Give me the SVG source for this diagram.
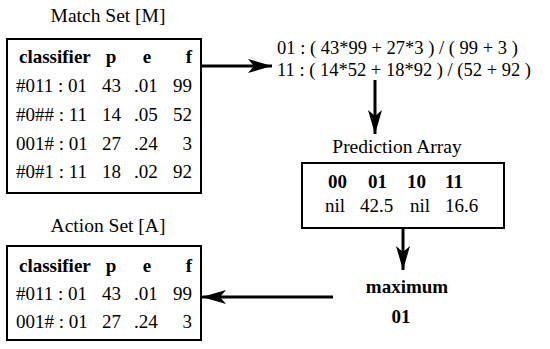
<svg xmlns="http://www.w3.org/2000/svg" width="550" height="349" viewBox="0 0 550 349">
  <style>
    text { font-family: 'Liberation Serif', 'DejaVu Serif', serif; font-size: 19px; fill: #000; }
    .t { font-size: 19.5px; }
    .f { font-size: 18.5px; }
    .b { font-weight: bold; }
    .m { text-anchor: middle; }
    .e { text-anchor: end; }
    .box { fill: #fff; stroke: #000; stroke-width: 2; }
    .wire { stroke: #000; stroke-width: 3; fill: none; }
  </style>
  <defs>
    <marker id="head" viewBox="0 0 24 14" refX="24" refY="7" markerWidth="24" markerHeight="14" markerUnits="userSpaceOnUse" orient="auto">
      <path d="M0,0 L24,7 L0,14 L6,7 Z" fill="#000"/>
    </marker>
  </defs>

  <rect width="550" height="349" fill="#fff"/>

  <!-- match set table -->
  <g id="match-set">
    <text class="t m" x="108" y="22">Match Set [M]</text>
    <rect class="box" x="7" y="39" width="194" height="154"/>
    <text class="b" x="19" y="63">classifier</text>
    <text class="b m" x="111" y="63">p</text>
    <text class="b m" x="147" y="63">e</text>
    <text class="b e" x="192" y="63">f</text>
    <text x="16" y="92">#011 : 01</text><text x="102" y="92">43</text><text x="134" y="92">.01</text><text class="e" x="192" y="92">99</text>
    <text x="16" y="121">#0## : 11</text><text x="102" y="121">14</text><text x="134" y="121">.05</text><text class="e" x="192" y="121">52</text>
    <text x="16" y="150">001# : 01</text><text x="102" y="150">27</text><text x="134" y="150">.24</text><text class="e" x="192" y="150">3</text>
    <text x="16" y="178">#0#1 : 11</text><text x="102" y="178">18</text><text x="134" y="178">.02</text><text class="e" x="192" y="178">92</text>
  </g>

  <!-- per-action fitness-weighted prediction -->
  <g id="computation">
    <text class="f" x="277" y="54">01 : ( 43*99 + 27*3 ) / ( 99 + 3 )</text>
    <text class="f" x="277" y="76">11 : ( 14*52 + 18*92 ) / (52 + 92 )</text>
  </g>

  <!-- prediction array -->
  <g id="prediction-array">
    <text class="t m" x="397" y="153">Prediction Array</text>
    <rect class="box" x="302" y="163" width="202" height="65"/>
    <text class="b" x="328" y="188">00</text>
    <text class="b" x="368" y="188">01</text>
    <text class="b" x="407" y="188">10</text>
    <text class="b" x="445" y="188">11</text>
    <text x="325" y="212">nil</text>
    <text x="360" y="212">42.5</text>
    <text x="410" y="212">nil</text>
    <text x="445" y="212">16.6</text>
  </g>

  <!-- action selection -->
  <g id="maximum">
    <text class="b m" x="407" y="293">maximum</text>
    <text class="b m" x="401" y="323">01</text>
  </g>

  <!-- action set table -->
  <g id="action-set">
    <text class="t m" x="108" y="232">Action Set [A]</text>
    <rect class="box" x="7" y="246" width="194" height="94"/>
    <text class="b" x="19" y="272">classifier</text>
    <text class="b m" x="111" y="272">p</text>
    <text class="b m" x="147" y="272">e</text>
    <text class="b e" x="192" y="272">f</text>
    <text x="16" y="300">#011 : 01</text><text x="102" y="300">43</text><text x="134" y="300">.01</text><text class="e" x="192" y="300">99</text>
    <text x="16" y="328">001# : 01</text><text x="102" y="328">27</text><text x="134" y="328">.24</text><text class="e" x="192" y="328">3</text>
  </g>

  <!-- connectors -->
  <g id="connectors">
    <line class="wire" x1="201" y1="66" x2="272" y2="66" marker-end="url(#head)"/>
    <line class="wire" x1="375" y1="80" x2="375" y2="134" marker-end="url(#head)"/>
    <line class="wire" x1="403" y1="228" x2="403" y2="270" marker-end="url(#head)"/>
    <line class="wire" x1="333" y1="297" x2="202" y2="297" marker-end="url(#head)"/>
  </g>
</svg>
